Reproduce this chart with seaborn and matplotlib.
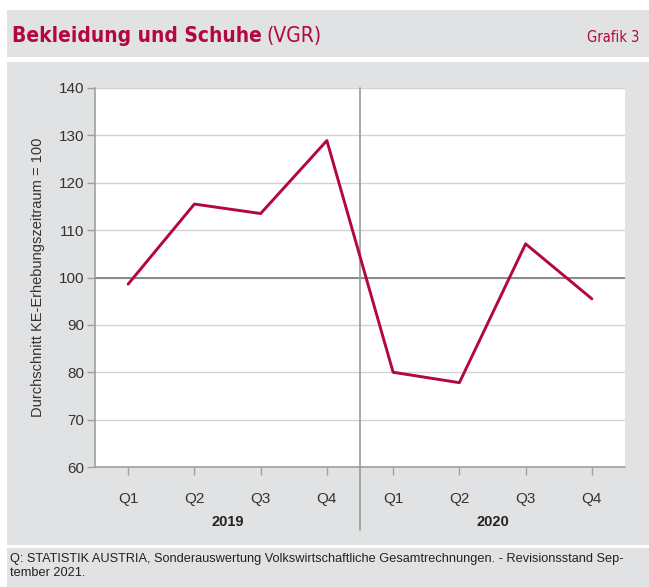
import numpy as np
import pandas as pd
import seaborn as sns
import matplotlib.pyplot as plt
from matplotlib.patches import Rectangle
import matplotlib.transforms as mtransforms

# data
quarters = ["Q1", "Q2", "Q3", "Q4", "Q1", "Q2", "Q3", "Q4"]
years = ["2019", "2020"]
values = [98.6, 115.5, 113.5, 128.9, 80.0, 77.8, 107.1, 95.5]

CRIMSON = "#b4073f"
PANEL = "#e1e2e4"
FONT = ["Liberation Sans", "DejaVu Sans"]

sns.set_theme(style="white")
plt.rcParams["font.family"] = FONT

df = pd.DataFrame({"pos": np.arange(len(values)), "value": values})

fig = plt.figure(figsize=(6.49, 5.87), dpi=100)
fig.patch.set_facecolor("white")

# grey bands
for (x0, y0, w, h) in [(0.011, 0.903, 0.989, 0.080),
                       (0.011, 0.072, 0.989, 0.822),
                       (0.011, 0.0, 0.989, 0.066)]:
    fig.patches.append(Rectangle((x0, y0), w, h, transform=fig.transFigure,
                                 facecolor=PANEL, edgecolor="none", zorder=-10))

ax = fig.add_axes([0.1464, 0.2044, 0.8166, 0.6457])
ax.set_zorder(5)
ax.set_facecolor("white")

sns.lineplot(data=df, x="pos", y="value", ax=ax, color=CRIMSON, linewidth=2.1, zorder=5)

ax.set_xlim(-0.5, len(values) - 0.5)
ax.set_ylim(60, 140)
ax.set_yticks(range(60, 141, 10))
ax.set_xticks(df["pos"])
ax.set_xticklabels(quarters)
ax.grid(axis="y", color="#d2d2d2", linewidth=1)
ax.axhline(100, color="#8a8a8c", linewidth=1.4, zorder=3)

# divider between years, reaching below the axis
trans = mtransforms.blended_transform_factory(ax.transData, ax.transAxes)
ax.plot([3.5, 3.5], [-0.165, 1], transform=trans, color="#9a9a9a",
        linewidth=1.2, clip_on=False, zorder=4)

for i, yr in enumerate(years):
    ax.text(1.5 + 4 * i, -0.145, yr, transform=trans, ha="center", va="center",
            fontsize=10.5, fontweight="bold", color="#222222")

for side in ["top", "right"]:
    ax.spines[side].set_visible(False)
for side in ["left", "bottom"]:
    ax.spines[side].set_color("#a0a0a0")
    ax.spines[side].set_linewidth(1.2)

ax.tick_params(axis="both", direction="out", length=6, width=1, color="#a0a0a0",
               labelsize=11, labelcolor="#333333", bottom=True, left=True)
ax.tick_params(axis="x", pad=12)
ax.tick_params(axis="y", pad=2)
ax.set_xlabel("")
ax.set_ylabel("Durchschnitt KE-Erhebungszeitraum = 100", fontsize=10.5,
              color="#333333", labelpad=10)

# title
TITLE_FONT = ["DejaVu Sans", "Liberation Sans"]
t1 = fig.text(0.019, 0.929, "Bekleidung und Schuhe", fontsize=15, fontweight="bold",
              color=CRIMSON, va="baseline", ha="left", family=TITLE_FONT,
              fontstretch="condensed")
fig.canvas.draw()
bb = t1.get_window_extent()
fig.text(bb.x1 / fig.bbox.width + 0.007, 0.929, "(VGR)", fontsize=15,
         color=CRIMSON, va="baseline", ha="left", family=TITLE_FONT,
         fontstretch="condensed")
fig.text(0.985, 0.929, "Grafik 3", fontsize=10.5, color=CRIMSON,
         va="baseline", ha="right", family=TITLE_FONT, fontstretch="condensed")

# source note
fig.text(0.016, 0.036, "Q: STATISTIK AUSTRIA, Sonderauswertung Volkswirtschaftliche "
         "Gesamtrechnungen. - Revisionsstand Sep-\ntember 2021.",
         fontsize=9.2, color="#222222", va="center", ha="left", linespacing=1.15)

fig.savefig("out.png", dpi=100)
plt.close(fig)
